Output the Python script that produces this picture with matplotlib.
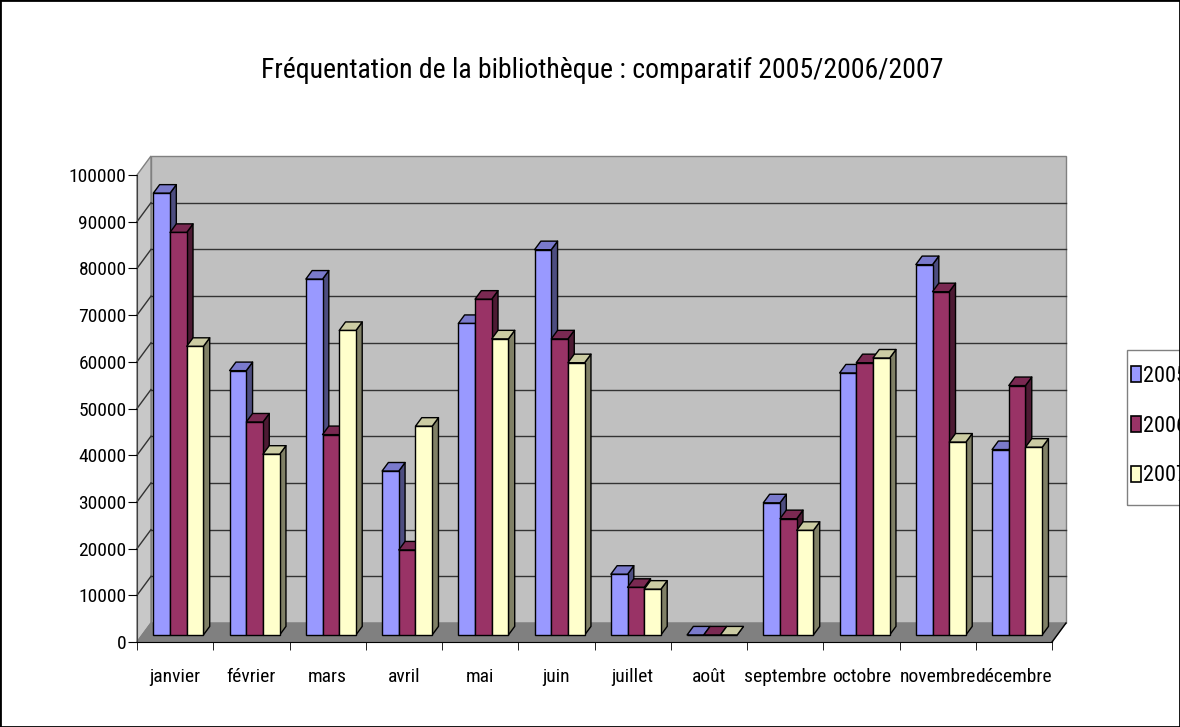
import matplotlib.pyplot as plt
from matplotlib.patches import Rectangle, Polygon, Patch
from matplotlib.collections import PolyCollection

plt.rcParams['font.family'] = ['Liberation Sans Narrow', 'Arial Narrow', 'Roboto Condensed',
                               'Archivo Narrow', 'DejaVu Sans']

mois = ['janvier', 'février', 'mars', 'avril', 'mai', 'juin', 'juillet', 'août',
        'septembre', 'octobre', 'novembre', 'décembre']
annees = ['2005', '2006', '2007']
v2005 = [94600, 56600, 76200, 35100, 66700, 82500, 13000, 0, 28300, 56100, 79300, 39700]
v2006 = [86200, 45600, 42900, 18200, 71900, 63400, 10200, 0, 24900, 58300, 73500, 53400]
v2007 = [61800, 38700, 65200, 44700, 63400, 58300, 9800, 0, 22400, 59300, 41300, 40200]
series = [v2005, v2006, v2007]

# couleurs Excel : face, dessus, côté
faces = ['#9999ff', '#993366', '#ffffcc']
dessus = ['#7a7acc', '#7a2952', '#cccca3']
cotes = ['#4d4d80', '#4d1a33', '#808066']

W, H = 1180, 727
fig = plt.figure(figsize=(W / 100, H / 100), dpi=100)
ax = fig.add_axes([137 / W, 85 / H, 915 / W, 467 / H])
ax.set_xlim(0, 12)
ax.set_ylim(0, 100000)
ax.set_facecolor('none')

# profondeur du "3D" en unités de données
DX = 14 / 76.25
DY = 19 / 467 * 100000
f_bar = 0.37      # position de la face avant des barres dans la profondeur
d_bar = 0.45      # profondeur des barres
bw = 0.219        # largeur d'une barre
off = 0.214

# murs et sol
ax.add_patch(Rectangle((DX, DY), 12, 100000, fc='#c0c0c0', ec='#808080', lw=1,
                       clip_on=False, zorder=0))
ax.add_patch(Polygon([(0, 0), (DX, DY), (DX, DY + 100000), (0, 100000)], closed=True,
                     fc='#c8c8c8', ec='#808080', lw=1, clip_on=False, zorder=0))
ax.add_patch(Polygon([(0, 0), (12, 0), (12 + DX, DY), (DX, DY)], closed=True,
                     fc='#808080', ec='#808080', lw=1, clip_on=False, zorder=0.5))
for v in range(10000, 100000, 10000):
    ax.plot([DX, 12 + DX], [v + DY, v + DY], color='#333333', lw=1, clip_on=False, zorder=0.6)
    ax.plot([0, DX], [v, v + DY], color='#333333', lw=1, clip_on=False, zorder=0.6)
ax.plot([12, 12 + DX], [0, DY], color='black', lw=1, clip_on=False, zorder=0.7)

# barres
base = f_bar * DY
ddx, ddy = d_bar * DX, d_bar * DY
for j, vals in enumerate(series):
    xs = [i + off + j * bw for i in range(12)]
    tops, sides = [], []
    for x, v in zip(xs, vals):
        t = base + v
        tops.append([(x, t), (x + bw, t), (x + bw + ddx, t + ddy), (x + ddx, t + ddy)])
        sides.append([(x + bw, base), (x + bw + ddx, base + ddy), (x + bw + ddx, t + ddy), (x + bw, t)])
    ax.add_collection(PolyCollection(sides, facecolors=cotes[j], edgecolors='black', lw=1,
                                     clip_on=False, zorder=2 + 2 * j))
    ax.add_collection(PolyCollection(tops, facecolors=dessus[j], edgecolors='black', lw=1,
                                     clip_on=False, zorder=2 + 2 * j))
    ax.bar(xs, vals, width=bw, bottom=base, align='edge', color=faces[j],
           edgecolor='black', lw=1, clip_on=False, zorder=3 + 2 * j)

# axes
for s in ['top', 'right']:
    ax.spines[s].set_visible(False)
ax.spines['left'].set_color('#404040')
ax.spines['bottom'].set_color('black')
ax.spines['left'].set_zorder(1)
ax.set_yticks(range(0, 100001, 10000))
ax.tick_params(axis='y', direction='out', length=6.5, pad=1, labelsize=14, colors='black')
ax.set_xticks([i + 0.5 for i in range(12)])
ax.set_xticklabels(mois)
ax.set_xticks(range(13), minor=True)
ax.tick_params(axis='x', which='major', length=0, pad=19, labelsize=14)
ax.tick_params(axis='x', which='minor', direction='out', length=6)

fig.text(602 / W, 1 - 70 / H, 'Fréquentation de la bibliothèque : comparatif 2005/2006/2007',
         ha='center', va='center', fontsize=20)

# légende (cadre dessiné à part, coupé par le bord comme dans l'original)
fig.patches.append(Rectangle((1127 / W, 1 - 505 / H), 70 / W, 155 / H, transform=fig.transFigure,
                             fill=False, ec='#808080', lw=1, clip_on=False))
handles = [Patch(fc=c, ec='black', lw=1.2) for c in faces]
fig.legend(handles, annees, loc='center left', bbox_to_anchor=(1131 / W, 1 - 426 / H),
           fontsize=16, frameon=False, handlelength=0.45, handleheight=0.72,
           handletextpad=0.1, labelspacing=1.3, borderpad=0, borderaxespad=0)

fig.patches.append(Rectangle((0, 0), 1, 1, transform=fig.transFigure, fill=False,
                             ec='black', lw=2))

fig.savefig('out.png', dpi=100)
